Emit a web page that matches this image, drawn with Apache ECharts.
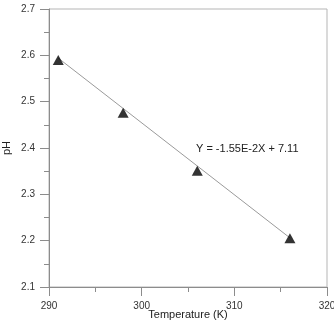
<!DOCTYPE html>
<html>
<head>
<meta charset="utf-8">
<script src="https://cdn.jsdelivr.net/npm/echarts@6/dist/echarts.min.js"></script>
<style>
  html,body{margin:0;padding:0;background:#fff;}
  #chart{width:334px;height:321px;}
</style>
</head>
<body>
<div id="chart"></div>
<script>
// measured points (temperature in K, pH)
const temps = [291, 298, 306, 316]
const phs = [2.59, 2.476, 2.351, 2.205]
// fitted line ends
const fitTemps = [291, 316]
const fitPhs = [2.594, 2.206]
const fitLabel = 'Y = -1.55E-2X + 7.11'

const font = 'Liberation Sans, Arial, sans-serif'
const axisGray = '#8c8c8c'

const chart = echarts.init(document.getElementById('chart'))
const option = {
  animation: false,
  grid: {
    left: 49, right: 7, top: 9, bottom: 34,
    outerBoundsMode: 'none',
    show: true, borderColor: '#b5b5b5', borderWidth: 1
  },
  xAxis: {
    type: 'value', min: 290, max: 320, interval: 10,
    name: 'Temperature (K)', nameLocation: 'middle', nameGap: 22,
    nameMoveOverlap: false,
    nameTextStyle: { fontFamily: font, fontSize: 11, color: '#222' },
    axisLine: { show: true, lineStyle: { color: axisGray } },
    axisTick: { show: true, length: 9, lineStyle: { color: axisGray } },
    minorTick: { show: true, splitNumber: 2, length: 5, lineStyle: { color: axisGray } },
    axisLabel: { fontFamily: font, fontSize: 10, color: '#333', margin: 14 },
    splitLine: { show: false }
  },
  yAxis: {
    type: 'value', min: 2.1, max: 2.7, interval: 0.1,
    name: 'pH', nameLocation: 'middle', nameGap: 37,
    nameMoveOverlap: false,
    nameTextStyle: { fontFamily: font, fontSize: 11, color: '#222' },
    axisLine: { show: true, lineStyle: { color: axisGray } },
    axisTick: { show: true, length: 9, lineStyle: { color: axisGray } },
    minorTick: { show: true, splitNumber: 2, length: 5, lineStyle: { color: axisGray } },
    axisLabel: { fontFamily: font, fontSize: 10, color: '#333', margin: 14,
      formatter: v => v.toFixed(1) },
    splitLine: { show: false }
  },
  series: [
    {
      type: 'line',
      data: fitTemps.map((t, i) => [t, fitPhs[i]]),
      showSymbol: false,
      lineStyle: { color: '#9a9a9a', width: 1 },
      z: 2
    },
    {
      type: 'scatter',
      data: temps.map((t, i) => [t, phs[i]]),
      symbol: 'triangle',
      symbolSize: [11, 10],
      itemStyle: { color: '#000' },
      z: 3
    }
  ],
  graphic: [{
    type: 'text', left: 196, top: 143,
    style: { text: fitLabel, font: '11px ' + font, fill: '#222' }
  }]
}
chart.setOption(option)
</script>
</body>
</html>
